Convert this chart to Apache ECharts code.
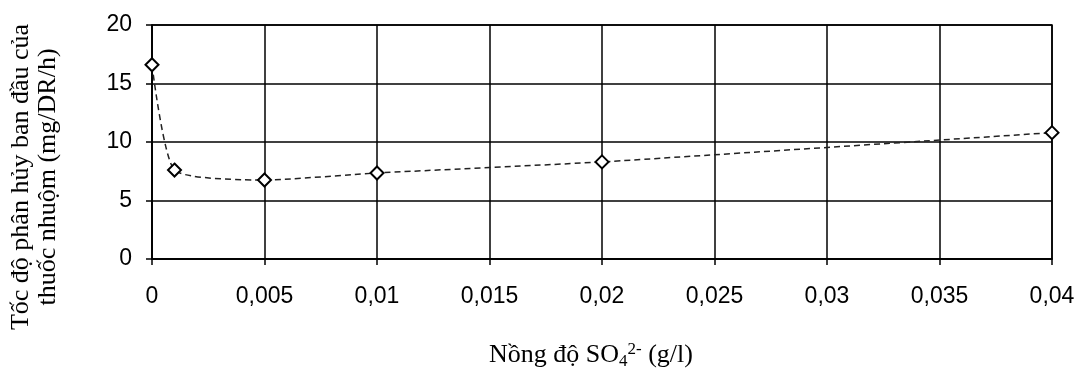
<!DOCTYPE html>
<html>
<head>
<meta charset="utf-8">
<script src="https://cdn.jsdelivr.net/npm/echarts@6/dist/echarts.min.js"></script>
<style>html,body{margin:0;padding:0;background:#fff}#c{width:1079px;height:375px}</style>
</head>
<body>
<div id="c"></div>
<script>
const xValues = [0, 0.001, 0.005, 0.01, 0.02, 0.04];
const yValues = [16.6, 7.6, 6.75, 7.35, 8.3, 10.8];
const yTitleLines = ['Tốc độ phân hủy ban đầu của', 'thuốc nhuộm (mg/DR/h)'];

const chart = echarts.init(document.getElementById('c'));
const sans = '"Liberation Sans", Arial, sans-serif';
const serif = '"Liberation Serif", "Times New Roman", serif';
chart.setOption({
  animation: false,
  backgroundColor: '#fff',
  grid: { left: 152, right: 27, top: 25, bottom: 114, show: true, borderColor: '#000', borderWidth: 1.5 },
  graphic: [{
    type: 'text',
    x: 35, y: 177,
    rotation: Math.PI / 2,
    style: {
      text: yTitleLines.join('\n'),
      fontFamily: serif, fontSize: 26, lineHeight: 27, fill: '#000',
      align: 'center', verticalAlign: 'middle'
    }
  }],
  xAxis: {
    type: 'value', min: 0, max: 0.04, interval: 0.005,
    axisLine: { show: true, onZero: false, lineStyle: { color: '#000', width: 1.5 } },
    axisTick: { show: true, length: 6, lineStyle: { color: '#000', width: 1.5 } },
    splitLine: { show: true, lineStyle: { color: '#000', width: 1.5 } },
    axisLabel: {
      color: '#000', fontFamily: sans, fontSize: 23, margin: 26,
      formatter: v => String(+v.toFixed(3)).replace('.', ',')
    },
    name: '{t|Nồng độ SO}{sub|4}{sup|2-}{t| (g/l)}',
    nameLocation: 'middle', nameGap: 82,
    nameTextStyle: {
      padding: [0, 22, 0, 0],
      rich: {
        t: { fontFamily: serif, fontSize: 26, color: '#000' },
        sub: { fontFamily: serif, fontSize: 17, color: '#000', verticalAlign: 'bottom', padding: [12, 0, 0, 0] },
        sup: { fontFamily: serif, fontSize: 17, color: '#000', verticalAlign: 'top', padding: [0, 0, 12, 0] }
      }
    }
  },
  yAxis: {
    type: 'value', min: 0, max: 20, interval: 5,
    axisLine: { show: true, lineStyle: { color: '#000', width: 1.5 } },
    axisTick: { show: true, length: 6, lineStyle: { color: '#000', width: 1.5 } },
    splitLine: { show: true, lineStyle: { color: '#000', width: 1.5 } },
    axisLabel: { color: '#000', fontFamily: sans, fontSize: 23, margin: 20 }
  },
  series: [{
    type: 'line',
    data: xValues.map((x, i) => [x, yValues[i]]),
    smooth: 0.18,
    lineStyle: { color: '#222', width: 1.5, type: [6, 4] },
    symbol: 'diamond', symbolSize: 13,
    itemStyle: { color: '#fff', borderColor: '#000', borderWidth: 2 }
  }]
});
</script>
</body>
</html>
